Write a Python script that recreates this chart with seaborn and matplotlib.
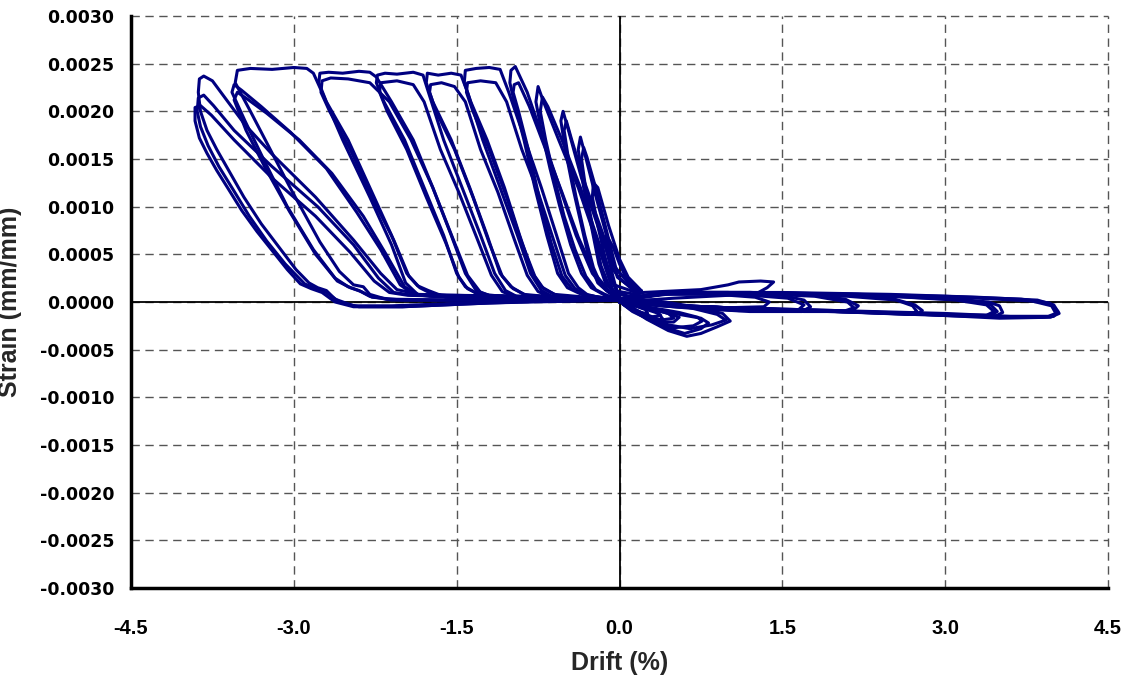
import pandas as pd
import seaborn as sns
import matplotlib.pyplot as plt
from matplotlib.ticker import FixedLocator, FormatStrFormatter

# drift (%), strain (mm/mm), one list per load cycle
A1 = [(0.0, 0.00003), (-0.8, 0.00006), (-1.5, 0.00007), (-1.85, 0.00008), (-2.05, 0.00013),
      (-2.2, 0.0003), (-2.45, 0.00065), (-2.8, 0.0011), (-3.2, 0.00155), (-3.45, 0.00186),
      (-3.62, 0.00212), (-3.75, 0.00232), (-3.83, 0.00237), (-3.87, 0.00234), (-3.88, 0.0022),
      (-3.86, 0.002), (-3.8, 0.0018), (-3.71, 0.0016), (-3.6, 0.00138), (-3.46, 0.0011),
      (-3.3, 0.00082), (-3.12, 0.00055), (-2.98, 0.00034), (-2.86, 0.0002),
      (-2.78, 0.00015), (-2.7, 0.00012), (-2.62, 0.00003), (-2.45, -0.00004), (-2.1, -0.00004),
      (-1.4, -0.00001), (-0.6, 0.00002), (0.0, 0.00002),
      (0.4, 0.0001), (1.2, 0.0001), (2.2, 0.00008), (3.0, 0.00006), (3.7, 0.00003),
      (3.96, -0.00001), (4.04, -0.0001), (4.0, -0.00015), (3.9, -0.00016), (3.5, -0.00016),
      (3.0, -0.00013), (2.2, -0.0001), (1.2, -0.00007), (0.5, -0.00004), (0.0, 0.0)]
A2 = [(0.0, 0.00002), (-0.8, 0.00005), (-1.5, 0.00007), (-1.9, 0.00007), (-2.08, 0.0001),
      (-2.22, 0.00025), (-2.45, 0.0006), (-2.78, 0.001), (-3.2, 0.00142), (-3.55, 0.0018),
      (-3.74, 0.00206), (-3.83, 0.00217), (-3.88, 0.00214), (-3.89, 0.002), (-3.86, 0.00184),
      (-3.79, 0.00164), (-3.69, 0.00142), (-3.56, 0.00118), (-3.41, 0.0009), (-3.25, 0.00064),
      (-3.08, 0.0004), (-2.9, 0.00019), (-2.8, 0.00014),
      (-2.7, 0.0001), (-2.58, 0.0), (-2.4, -0.00005), (-2.0, -0.00005), (-1.4, -0.00002),
      (-0.7, 0.00001), (0.0, 0.00002),
      (0.5, 0.00009), (1.5, 0.00009), (2.5, 0.00007), (3.3, 0.00004), (3.8, 0.00001),
      (3.98, -0.00004), (4.02, -0.00012), (3.95, -0.00015), (3.6, -0.00015), (3.0, -0.00012),
      (2.0, -0.00009), (1.0, -0.00006), (0.4, -0.00003), (0.0, 0.0)]
A3 = [(0.0, 0.00002), (-0.9, 0.00005), (-1.6, 0.00006), (-1.95, 0.00007), (-2.12, 0.0001),
      (-2.26, 0.00022), (-2.48, 0.00052), (-2.8, 0.0009), (-3.2, 0.0013), (-3.55, 0.0017),
      (-3.76, 0.00196), (-3.86, 0.00206), (-3.91, 0.00204), (-3.91, 0.0019), (-3.87, 0.00172),
      (-3.8, 0.00156), (-3.71, 0.00138), (-3.6, 0.00118), (-3.48, 0.00096), (-3.34, 0.00074),
      (-3.2, 0.00054), (-3.06, 0.00034), (-2.94, 0.00019), (-2.84, 0.00014),
      (-2.74, 0.0001), (-2.62, 0.0), (-2.45, -0.00005), (-2.0, -0.00005), (-1.2, -0.00001),
      (0.0, 0.00002),
      (0.5, 0.0001), (1.5, 0.0001), (2.5, 0.00008), (3.3, 0.00005), (3.85, 0.00002),
      (4.0, -0.00003), (4.05, -0.00012), (3.97, -0.00016), (3.5, -0.00017), (2.8, -0.00013),
      (2.0, -0.00009), (1.0, -0.00006), (0.4, -0.00003), (0.0, 0.0)]

B1 = [(0.0, 0.00002), (-1.0, 0.00004), (-1.7, 0.00006), (-1.86, 0.00008), (-1.97, 0.0002),
      (-2.1, 0.0006), (-2.3, 0.0011), (-2.55, 0.0017), (-2.74, 0.0022), (-2.82, 0.0024),
      (-2.88, 0.00245), (-3.0, 0.00246), (-3.2, 0.00244), (-3.4, 0.00245), (-3.52, 0.00243),
      (-3.54, 0.0023), (-3.4, 0.002), (-3.24, 0.00165), (-3.03, 0.00119), (-2.76, 0.00063),
      (-2.58, 0.00032), (-2.45, 0.00018), (-2.36, 0.00016), (-2.3, 0.00008), (-2.15, 0.00003),
      (-1.5, 0.00002), (-0.7, 0.00002), (0.0, 0.00002),
      (0.4, 0.0001), (1.2, 0.0001), (2.2, 0.00008), (3.0, 0.00004), (3.4, 0.0),
      (3.5, -0.00004), (3.53, -0.00011), (3.46, -0.00015), (3.2, -0.00015), (2.7, -0.00013),
      (2.0, -0.0001), (1.2, -0.00007), (0.5, -0.00004), (0.0, 0.0)]
B2 = [(0.0, 0.00002), (-1.0, 0.00004), (-1.75, 0.00006), (-1.9, 0.00008), (-2.02, 0.00018),
      (-2.2, 0.00055), (-2.42, 0.00094), (-2.7, 0.0014), (-3.03, 0.00178), (-3.3, 0.00205),
      (-3.48, 0.00222), (-3.55, 0.00228), (-3.57, 0.0022), (-3.45, 0.0019), (-3.28, 0.0015),
      (-3.06, 0.001), (-2.82, 0.00055), (-2.62, 0.00025), (-2.5, 0.00016), (-2.4, 0.00012),
      (-2.3, 0.00006), (-2.1, 0.00002), (-1.5, 0.00002), (-0.7, 0.00002), (0.0, 0.00002),
      (0.5, 0.0001), (1.5, 0.00009), (2.5, 0.00006), (3.2, 0.00002), (3.42, -0.00003),
      (3.48, -0.0001), (3.42, -0.00014), (3.0, -0.00014), (2.2, -0.0001), (1.2, -0.00007),
      (0.5, -0.00004), (0.0, 0.0)]
B3 = [(0.0, 0.00002), (-1.0, 0.00004), (-1.7, 0.00006), (-1.86, 0.00008), (-1.98, 0.00016),
      (-2.15, 0.0005), (-2.36, 0.0009), (-2.65, 0.00135), (-2.95, 0.0017), (-3.25, 0.00198),
      (-3.43, 0.00213), (-3.52, 0.0022), (-3.55, 0.00212), (-3.44, 0.0018), (-3.26, 0.0014),
      (-3.04, 0.00095), (-2.8, 0.0005), (-2.6, 0.00022), (-2.48, 0.00015), (-2.38, 0.00011),
      (-2.28, 0.00005), (-2.0, 0.00002), (-1.2, 0.00002), (0.0, 0.00002),
      (0.5, 0.0001), (1.5, 0.00009), (2.5, 0.00006), (3.1, 0.00002), (3.38, -0.00003),
      (3.45, -0.0001), (3.38, -0.00014), (2.9, -0.00013), (2.0, -0.0001), (1.0, -0.00006),
      (0.4, -0.00003), (0.0, 0.0)]

C1 = [(0.0, 0.00002), (-0.8, 0.00005), (-1.2, 0.00007), (-1.32, 0.00012), (-1.42, 0.0003),
      (-1.55, 0.0007), (-1.72, 0.0012), (-1.9, 0.0017), (-2.1, 0.0021), (-2.24, 0.00236),
      (-2.3, 0.00241), (-2.4, 0.00242), (-2.55, 0.0024), (-2.68, 0.00241), (-2.76, 0.0024),
      (-2.77, 0.0023), (-2.7, 0.0021), (-2.5, 0.0017), (-2.3, 0.0012), (-2.1, 0.0007),
      (-1.96, 0.0003), (-1.86, 0.00017), (-1.76, 0.00012), (-1.6, 0.00005), (-1.0, 0.00003),
      (0.0, 0.00002),
      (0.4, 0.0001), (1.2, 0.0001), (2.0, 0.00008), (2.5, 0.00004), (2.72, -0.00003),
      (2.79, -0.00009), (2.74, -0.00013), (2.5, -0.00012), (2.0, -0.0001), (1.2, -0.00007),
      (0.5, -0.00004), (0.0, 0.0)]
C2 = [(0.0, 0.00002), (-0.8, 0.00005), (-1.18, 0.00006), (-1.28, 0.0001), (-1.4, 0.00028),
      (-1.54, 0.00068), (-1.72, 0.0012), (-1.92, 0.0017), (-2.12, 0.0021), (-2.3, 0.0023),
      (-2.5, 0.00234), (-2.66, 0.00235), (-2.74, 0.00232), (-2.75, 0.0022), (-2.67, 0.002),
      (-2.48, 0.0016), (-2.28, 0.0011), (-2.08, 0.00065), (-1.94, 0.00027), (-1.84, 0.00015),
      (-1.72, 0.00008), (-1.2, 0.00003), (0.0, 0.00002),
      (0.5, 0.0001), (1.3, 0.00009), (2.1, 0.00006), (2.55, 0.00002), (2.7, -0.00004),
      (2.74, -0.0001), (2.66, -0.00013), (2.2, -0.00011), (1.4, -0.00008), (0.6, -0.00004),
      (0.0, 0.0)]

D1 = [(0.0, 0.00002), (-0.6, 0.00004), (-0.95, 0.00006), (-1.05, 0.00012), (-1.15, 0.0003),
      (-1.28, 0.0007), (-1.45, 0.0012), (-1.62, 0.0017), (-1.76, 0.0022), (-1.81, 0.00238),
      (-1.9, 0.00241), (-2.05, 0.00239), (-2.16, 0.0024), (-2.23, 0.00238), (-2.24, 0.0023),
      (-2.17, 0.0021), (-1.98, 0.0017), (-1.8, 0.0012), (-1.62, 0.0007), (-1.5, 0.0003),
      (-1.42, 0.00016), (-1.3, 0.00008), (-0.8, 0.00004), (0.0, 0.00002),
      (0.4, 0.0001), (1.0, 0.0001), (1.7, 0.00008), (2.08, 0.00003), (2.2, -0.00004),
      (2.14, -0.0001), (1.7, -0.0001), (1.0, -0.00008), (0.4, -0.00004), (0.0, 0.0)]
D2 = [(0.0, 0.00002), (-0.6, 0.00004), (-0.98, 0.00006), (-1.08, 0.00011), (-1.18, 0.00028),
      (-1.31, 0.00066), (-1.48, 0.00115), (-1.65, 0.0016), (-1.8, 0.0021), (-1.9, 0.00228),
      (-2.05, 0.00232), (-2.2, 0.0023), (-2.21, 0.0022), (-2.14, 0.002), (-1.96, 0.0016),
      (-1.78, 0.0011), (-1.6, 0.00062), (-1.48, 0.00026), (-1.4, 0.00014), (-1.28, 0.00007),
      (-0.8, 0.00004), (0.0, 0.00002),
      (0.5, 0.0001), (1.2, 0.00009), (1.8, 0.00006), (2.1, 0.0), (2.16, -0.00006),
      (2.06, -0.0001), (1.5, -0.00009), (0.8, -0.00006), (0.0, 0.0)]

E1 = [(0.0, 0.00002), (-0.4, 0.00004), (-0.62, 0.00006), (-0.72, 0.00012), (-0.82, 0.0003),
      (-0.94, 0.0007), (-1.1, 0.0012), (-1.26, 0.0017), (-1.4, 0.0022), (-1.46, 0.00238),
      (-1.55, 0.0024), (-1.67, 0.00238), (-1.77, 0.0024), (-1.78, 0.0023), (-1.72, 0.0021),
      (-1.55, 0.0017), (-1.38, 0.0012), (-1.22, 0.0007), (-1.1, 0.0003), (-1.0, 0.00016),
      (-0.88, 0.00008), (-0.5, 0.00004), (0.0, 0.00002),
      (0.4, 0.0001), (1.0, 0.0001), (1.5, 0.00007), (1.7, 0.00002), (1.76, -0.00005),
      (1.68, -0.0001), (1.2, -0.0001), (0.6, -0.00006), (0.0, 0.0)]
E2 = [(0.0, 0.00002), (-0.4, 0.00004), (-0.65, 0.00006), (-0.75, 0.00011), (-0.85, 0.00028),
      (-0.97, 0.00066), (-1.12, 0.00115), (-1.28, 0.0016), (-1.42, 0.0021), (-1.52, 0.00226),
      (-1.64, 0.0023), (-1.74, 0.00228), (-1.75, 0.0022), (-1.69, 0.002), (-1.52, 0.0016),
      (-1.35, 0.0011), (-1.2, 0.00062), (-1.08, 0.00027), (-0.98, 0.00014), (-0.86, 0.00007),
      (-0.4, 0.00004), (0.0, 0.00002),
      (0.5, 0.0001), (1.1, 0.00008), (1.55, 0.00004), (1.7, -0.00003), (1.64, -0.00009),
      (1.1, -0.00009), (0.5, -0.00005), (0.0, 0.0)]

F1 = [(0.0, 0.00003), (-0.2, 0.00005), (-0.3, 0.00008), (-0.38, 0.00015), (-0.47, 0.0003),
      (-0.58, 0.0007), (-0.72, 0.0012), (-0.87, 0.0017), (-1.02, 0.0022), (-1.1, 0.00244),
      (-1.2, 0.00246), (-1.32, 0.00245), (-1.42, 0.00243), (-1.43, 0.0023), (-1.37, 0.0021),
      (-1.22, 0.0017), (-1.06, 0.0012), (-0.92, 0.0007), (-0.8, 0.0003), (-0.72, 0.00016),
      (-0.6, 0.00008), (-0.3, 0.00005), (0.0, 0.00003),
      (0.22, 0.0001), (0.75, 0.00013), (1.0, 0.00018), (1.1, 0.00021), (1.3, 0.00022),
      (1.42, 0.00021), (1.36, 0.00015), (1.28, 0.0001), (1.0, 0.00007), (0.5, 0.00004), (0.0, 0.0)]
F2 = [(0.0, 0.00003), (-0.22, 0.00005), (-0.33, 0.00008), (-0.41, 0.00014), (-0.5, 0.00028),
      (-0.61, 0.00066), (-0.75, 0.00115), (-0.9, 0.0016), (-1.04, 0.0021), (-1.14, 0.0023),
      (-1.28, 0.00232), (-1.4, 0.0023), (-1.41, 0.0022), (-1.35, 0.002), (-1.2, 0.0016),
      (-1.04, 0.0011), (-0.9, 0.00062), (-0.78, 0.00027), (-0.7, 0.00014), (-0.58, 0.00007),
      (-0.3, 0.00004), (0.0, 0.00002),
      (0.4, 0.00008), (0.9, 0.00008), (1.25, 0.00005), (1.38, 0.0), (1.33, -0.00005),
      (1.0, -0.00006), (0.5, -0.00004), (0.0, 0.0)]

G1 = [(0.1, 0.00005), (-0.12, 0.00012), (-0.25, 0.0003), (-0.4, 0.0007), (-0.55, 0.0012),
      (-0.7, 0.0017), (-0.85, 0.0022), (-0.96, 0.00247), (-1.0, 0.00243), (-1.01, 0.0023),
      (-0.97, 0.0021), (-0.88, 0.0017), (-0.78, 0.0012), (-0.67, 0.0007), (-0.57, 0.0003),
      (-0.48, 0.00015), (-0.35, 0.00008), (0.0, 0.00002),
      (0.3, 0.00002), (0.7, -0.00005), (0.95, -0.00012), (1.02, -0.0002), (0.9, -0.00026),
      (0.75, -0.00033), (0.62, -0.00036), (0.45, -0.0003), (0.25, -0.00018), (0.08, -0.00005),
      (0.1, 0.00005)]
G2 = [(0.12, 0.00005), (-0.1, 0.00012), (-0.23, 0.0003), (-0.38, 0.00068), (-0.53, 0.00115),
      (-0.68, 0.0016), (-0.83, 0.00205), (-0.93, 0.0023), (-0.97, 0.00228), (-0.98, 0.0022),
      (-0.93, 0.002), (-0.84, 0.0016), (-0.74, 0.0011), (-0.63, 0.00062), (-0.53, 0.00027),
      (-0.44, 0.00014), (-0.3, 0.00007), (0.0, 0.00002),
      (0.3, 0.0), (0.65, -0.00006), (0.9, -0.00013), (0.98, -0.00019), (0.85, -0.00024),
      (0.65, -0.00028), (0.45, -0.00024), (0.25, -0.00014), (0.08, -0.00004), (0.12, 0.00005)]

H1 = [(0.15, 0.00008), (-0.06, 0.00012), (-0.2, 0.0006), (-0.38, 0.0012), (-0.56, 0.0017),
      (-0.7, 0.0021), (-0.75, 0.00226), (-0.77, 0.0021), (-0.72, 0.0018), (-0.64, 0.0014),
      (-0.55, 0.001), (-0.45, 0.0006), (-0.35, 0.0003), (-0.26, 0.00015), (-0.15, 0.00008),
      (0.0, 0.00003),
      (0.2, -0.00005), (0.5, -0.00012), (0.75, -0.00017), (0.82, -0.00022), (0.75, -0.00028),
      (0.6, -0.00033), (0.4, -0.00026), (0.15, -0.0001), (0.05, -0.00002), (0.15, 0.00008)]
H2 = [(0.15, 0.0001), (-0.05, 0.00018), (-0.19, 0.00062), (-0.36, 0.0012), (-0.53, 0.0017),
      (-0.66, 0.00205), (-0.71, 0.00215), (-0.73, 0.002), (-0.68, 0.0017), (-0.6, 0.0013),
      (-0.51, 0.0009), (-0.41, 0.00055), (-0.31, 0.00027), (-0.22, 0.00013), (-0.1, 0.00006),
      (0.0, 0.00002),
      (0.25, -0.00005), (0.55, -0.00011), (0.72, -0.00016), (0.76, -0.0002), (0.68, -0.00025),
      (0.5, -0.00027), (0.3, -0.0002), (0.1, -0.00008), (0.03, -0.00002), (0.15, 0.0001)]

I1 = [(0.15, 0.0001), (0.0, 0.00025), (-0.06, 0.00034), (-0.2, 0.0008), (-0.35, 0.0013),
      (-0.47, 0.0018), (-0.52, 0.002), (-0.54, 0.0019), (-0.5, 0.0016), (-0.43, 0.0012),
      (-0.35, 0.0008), (-0.27, 0.0004), (-0.2, 0.0002), (-0.1, 0.0001), (0.0, 0.00003),
      (0.2, -0.00005), (0.42, -0.00011), (0.55, -0.00016), (0.5, -0.00021), (0.35, -0.00021),
      (0.18, -0.00012), (0.05, -0.00003), (0.15, 0.0001)]
I2 = [(0.16, 0.0001), (0.02, 0.00028), (-0.05, 0.00038), (-0.18, 0.0008), (-0.32, 0.00125),
      (-0.44, 0.0017), (-0.49, 0.0019), (-0.51, 0.0018), (-0.47, 0.0015), (-0.4, 0.0011),
      (-0.32, 0.0007), (-0.24, 0.00036), (-0.17, 0.00018), (-0.07, 0.00008), (0.0, 0.00003),
      (0.25, -0.00006), (0.45, -0.00012), (0.5, -0.00017), (0.38, -0.00019), (0.2, -0.00011),
      (0.05, -0.00003), (0.16, 0.0001)]

J1 = [(0.18, 0.0001), (0.05, 0.0002), (-0.02, 0.00026), (-0.12, 0.0007), (-0.24, 0.0012),
      (-0.33, 0.0016), (-0.36, 0.00173), (-0.38, 0.0016), (-0.33, 0.0012), (-0.26, 0.0008),
      (-0.19, 0.0004), (-0.13, 0.0002), (-0.05, 0.0001), (0.0, 0.00003),
      (0.15, -0.00004), (0.32, -0.00009), (0.38, -0.00014), (0.28, -0.00016), (0.12, -0.00008),
      (0.03, -0.00002), (0.18, 0.0001)]
J2 = [(0.2, 0.0001), (0.06, 0.00024), (-0.03, 0.00034), (-0.12, 0.00075), (-0.22, 0.0012),
      (-0.3, 0.00152), (-0.33, 0.00162), (-0.35, 0.0015), (-0.3, 0.0011), (-0.24, 0.00075),
      (-0.17, 0.00038), (-0.1, 0.00018), (-0.03, 0.00008), (0.0, 0.00002),
      (0.2, -0.00006), (0.36, -0.00012), (0.4, -0.00018), (0.3, -0.0002), (0.12, -0.0001),
      (0.03, -0.00002), (0.2, 0.0001)]
K1 = [(0.2, 0.00012), (0.08, 0.00026), (0.0, 0.00045), (-0.1, 0.0008), (-0.2, 0.0012),
      (-0.24, 0.00125), (-0.25, 0.0011), (-0.2, 0.0008), (-0.14, 0.0005), (-0.08, 0.00025),
      (-0.02, 0.0001), (0.0, 0.00003),
      (0.12, -0.00003), (0.24, -0.00008), (0.26, -0.00012), (0.16, -0.00011), (0.04, -0.00003),
      (0.2, 0.00012)]
L1 = [(0.18, 0.0001), (0.05, 0.00028), (0.0, 0.0004), (-0.06, 0.00058), (-0.12, 0.0007),
      (-0.13, 0.0006), (-0.09, 0.0004), (-0.04, 0.00018), (0.0, 0.00005), (0.1, -0.00003),
      (0.14, -0.00007), (0.06, -0.00004), (0.18, 0.0001)]

cycles = {"A1": A1, "A2": A2, "A3": A3, "B1": B1, "B2": B2, "B3": B3,
          "C1": C1, "C2": C2, "D1": D1, "D2": D2, "E1": E1, "E2": E2,
          "F1": F1, "F2": F2, "G1": G1, "G2": G2, "H1": H1, "H2": H2,
          "I1": I1, "I2": I2, "J1": J1, "J2": J2, "K1": K1, "L1": L1}

x_ticks = [-4.5, -3.0, -1.5, 0.0, 1.5, 3.0, 4.5]
y_ticks = [-0.0030, -0.0025, -0.0020, -0.0015, -0.0010, -0.0005, 0.0,
           0.0005, 0.0010, 0.0015, 0.0020, 0.0025, 0.0030]

rows = []
for name, pts in cycles.items():
    for i, (d, s) in enumerate(pts):
        rows.append({"cycle": name, "step": i, "drift": d, "strain": s})
df = pd.DataFrame(rows)

sns.set_style("white")
plt.rcParams['font.family'] = ['Liberation Sans', 'DejaVu Sans']
plt.rcParams['font.weight'] = 'bold'

fig = plt.figure(figsize=(11.23, 6.8), dpi=100)
ax = fig.add_axes([131/1123, 1 - 588/680, (1108 - 131)/1123, (588 - 16)/680])

ax.set_xlim(-4.5, 4.5)
ax.set_ylim(-0.003, 0.003)
ax.xaxis.set_major_locator(FixedLocator(x_ticks))
ax.yaxis.set_major_locator(FixedLocator(y_ticks))
ax.xaxis.set_major_formatter(FormatStrFormatter('%.1f'))
ax.yaxis.set_major_formatter(FormatStrFormatter('%.4f'))

ax.grid(True, linestyle=(0, (6, 4)), color='#555555', linewidth=1.0)
ax.set_axisbelow(True)
for gl in ax.get_xgridlines() + ax.get_ygridlines():
    gl.set_clip_on(False)
ax.axhline(0, color='black', lw=1.3, zorder=1.5)
ax.axvline(0, color='black', lw=1.3, zorder=1.5)

sns.lineplot(data=df, x='drift', y='strain', units='cycle', estimator=None,
             sort=False, color='#000080', linewidth=2.2, ax=ax, zorder=3)

for side in ['top', 'right']:
    ax.spines[side].set_visible(False)
for side in ['left', 'bottom']:
    ax.spines[side].set_linewidth(2.5)
    ax.spines[side].set_color('black')

ax.tick_params(direction='out', length=5, width=1.5, colors='black')
ax.tick_params(axis='x', labelsize=14.5, pad=17)
ax.tick_params(axis='y', labelsize=12.5, pad=7)
for lab in ax.get_xticklabels():
    lab.set_fontweight('bold')
for lab in ax.get_yticklabels():
    lab.set_fontweight('bold')
    lab.set_family('DejaVu Sans')

ax.set_xlabel('Drift (%)', fontsize=18, fontweight='bold')
ax.set_ylabel('Strain (mm/mm)', fontsize=18, fontweight='bold')
ax.xaxis.set_label_coords(0.5, (588 - 651) / 572)
ax.yaxis.set_label_coords((22 - 131) / 977, 0.5)

fig.savefig('out.png', dpi=100)
